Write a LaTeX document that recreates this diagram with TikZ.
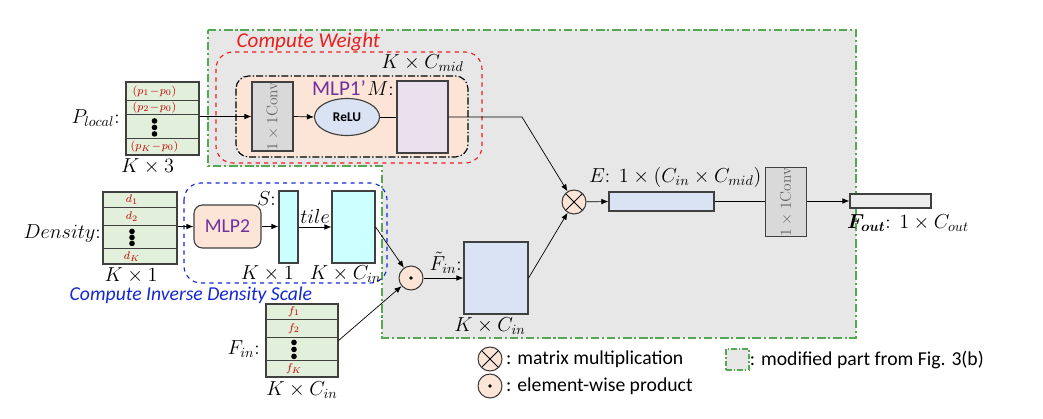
\documentclass[tikz,border=0pt]{standalone}
\usepackage{amsmath,amssymb}
\usepackage{fontspec}
\setsansfont{Carlito}
\usetikzlibrary{arrows.meta,positioning,calc,shapes.geometric}

\definecolor{tabgreen}{RGB}{226,239,218}
\definecolor{cellred}{RGB}{192,0,0}
\definecolor{opfill}{RGB}{252,228,214}
\definecolor{regiongray}{RGB}{231,231,231}
\definecolor{regiongreen}{RGB}{84,168,84}
\definecolor{convgray}{RGB}{217,217,217}
\definecolor{mfill}{RGB}{234,224,238}
\definecolor{sfill}{RGB}{204,255,255}
\definecolor{bfill}{RGB}{218,227,243}
\definecolor{outfill}{RGB}{236,236,236}
\definecolor{mlppurple}{RGB}{112,48,160}
\definecolor{cwred}{RGB}{235,30,30}
\definecolor{cdblue}{RGB}{20,40,210}

\begin{document}
\begin{tikzpicture}[
    x=0.025cm, y=-0.025cm,
    lab/.style={font=\fontsize{14}{16}\selectfont, inner sep=1pt},
    tab/.style={draw=black!75, line width=0.8pt, fill=tabgreen, inner sep=0pt},
    cell/.style={font=\fontsize{8}{9}\selectfont, text=cellred, inner sep=0pt},
    blk/.style={draw=black!75, line width=0.8pt, inner sep=0pt},
    convbox/.style={blk, fill=convgray, minimum width=1.025cm, minimum height=1.725cm, font=\fontsize{11}{13}\selectfont, text=black!60},
    op/.style={circle, draw=black!80, line width=0.7pt, fill=opfill, minimum size=0.6cm, inner sep=0pt},
    otimes/.style={op, path picture={\draw[black, line width=0.7pt] (path picture bounding box.north west) -- (path picture bounding box.south east) (path picture bounding box.north east) -- (path picture bounding box.south west);}},
    odot/.style={op, path picture={\fill[black] (path picture bounding box.center) circle (1.4pt);}},
    sans/.style={font=\sffamily\fontsize{14}{16}\selectfont, inner sep=1pt},
    wire/.style={line width=0.5pt, -{Latex[length=5pt, width=4pt]}},
    link/.style={line width=0.5pt}
  ]
  \useasboundingbox (0,0) rectangle (1043,419);

  % modified part
  \filldraw[fill=regiongray, draw=regiongreen, line width=0.8pt, dash pattern=on 6pt off 2pt on 1.5pt off 2pt]
    (208,30) -- (856,30) -- (856,338) -- (382,338) -- (382,166) -- (208,166) -- cycle;

  % compute weight
  \draw[cwred, line width=0.8pt, dashed, rounded corners=12pt] (216,52) rectangle (482,163);
  \node[sans, text=cwred, anchor=base west, font=\sffamily\itshape\fontsize{15}{17}\selectfont] (cwlab) at (235,48) {Compute Weight};
  \filldraw[fill=opfill, draw=black, line width=0.8pt, rounded corners=9pt, dash pattern=on 5pt off 1.5pt on 1pt off 1.5pt]
    (236,76) rectangle (468,157);

  \node[convbox] (conv1) at (272.5,116.5) {\rotatebox{90}{$1\times1$Conv}};
  \node[blk, ellipse, fill=bfill, minimum width=1.625cm, minimum height=0.925cm, font=\sffamily\bfseries\fontsize{9.5}{11}\selectfont] (relu) at (347,117) {ReLU};
  \node[blk, fill=mfill, minimum width=1.275cm, minimum height=1.8cm] (mnode) at (422.5,117) {};
  \node[lab, anchor=north east] (mlab) at ($(mnode.north west)+(-1,0)$) {$M$:};
  \node[lab, anchor=south] (mdim) at ($(mnode.north)+(0,-7)$) {$K\times C_{mid}$};
  \node[sans, text=mlppurple, font=\sffamily\fontsize{15}{17}\selectfont] (mlp1) at (339,88) {MLP1’};

  % P_local table
  \node[tab, minimum width=1.825cm, minimum height=1.825cm] (plocal) at (162.5,118.5) {};
  \foreach \dy in {19,33,57}
    \draw[black!75] ($(plocal.north west)+(0,\dy)$) -- ($(plocal.north east)+(0,\dy)$);
  \node[cell] at ($(plocal.north)+(-8,10)$) {$(p_1\!-\!p_0)$};
  \node[cell] at ($(plocal.north)+(-8,26)$) {$(p_2\!-\!p_0)$};
  \node[cell] at ($(plocal.north)+(-8,65)$) {$(p_K\!-\!p_0)$};
  \foreach \k in {-6.5,0,6.5}
    \fill ($(plocal.north)+(-8,46+\k)$) circle (2pt);
  \node[lab, anchor=east] (plab) at ($(plocal.west)+(-4,0)$) {$P_{local}$:};
  \node[lab, anchor=north] (pdim) at ($(plocal.south)+(-15,1)$) {$K\times 3$};

  % density table
  \node[tab, minimum width=1.85cm, minimum height=1.8cm] (dens) at (140,228) {};
  \foreach \dy in {16,34,57}
    \draw[black!75] ($(dens.north west)+(0,\dy)$) -- ($(dens.north east)+(0,\dy)$);
  \node[cell] at ($(dens.north)+(-8,8)$) {$d_1$};
  \node[cell] at ($(dens.north)+(-8,25)$) {$d_2$};
  \node[cell] at ($(dens.north)+(-8,65)$) {$d_K$};
  \foreach \k in {-6,0,6}
    \fill ($(dens.north)+(-8,46+\k)$) circle (2pt);
  \node[lab, anchor=east] (dlab) at ($(dens.west)+(0,6)$) {$Density$:};
  \node[lab, anchor=north] (ddim) at ($(dens.south)+(-9,1)$) {$K\times 1$};

  % compute inverse density scale
  \draw[cdblue, line width=0.8pt, dashed, rounded corners=12pt] (184,183) rectangle (387,283);
  \node[sans, text=cdblue, anchor=base west, font=\sffamily\itshape\fontsize{14}{16}\selectfont] (cdlab) at (68,300) {Compute Inverse Density Scale};
  \node[blk, fill=opfill, rounded corners=6pt, minimum width=1.675cm, minimum height=1.075cm, font=\sffamily\fontsize{14}{16}\selectfont, text=mlppurple] (mlp2) at (227.5,226.5) {MLP2};
  \node[blk, fill=sfill, minimum width=0.475cm, minimum height=1.8cm] (snode) at (288.5,227) {};
  \node[blk, fill=sfill, minimum width=1.075cm, minimum height=1.8cm] (tiled) at (353.5,227) {};
  \node[lab, anchor=north east] (slab) at ($(snode.north west)+(-1,0)$) {$S$:};
  \node[lab, anchor=north east] (sdim) at ($(snode.south east)+(-3,0)$) {$K\times 1$};
  \node[lab, anchor=north] (tdim) at ($(tiled.south)+(-8,0)$) {$K\times C_{in}$};

  % F_in table
  \node[tab, minimum width=1.8cm, minimum height=1.825cm] (fin) at (302,340.5) {};
  \foreach \dy in {16,34,57}
    \draw[black!75] ($(fin.north west)+(0,\dy)$) -- ($(fin.north east)+(0,\dy)$);
  \node[cell] at ($(fin.north)+(-8,8)$) {$f_1$};
  \node[cell] at ($(fin.north)+(-8,25)$) {$f_2$};
  \node[cell] at ($(fin.north)+(-8,65)$) {$f_K$};
  \foreach \k in {-7,0,7}
    \fill ($(fin.north)+(-8,46+\k)$) circle (2pt);
  \node[lab, anchor=east] (flab) at ($(fin.west)+(-4,9)$) {$F_{in}$:};
  \node[lab, anchor=north] (fdim) at ($(fin.south)+(0,2)$) {$K\times C_{in}$};

  % operators and features
  \node[odot] (prod) at (411,278) {};
  \node[blk, fill=bfill, minimum width=1.6cm, minimum height=1.8cm] (ftil) at (496,278) {};
  \node[lab, anchor=south east] (ftlab) at ($(ftil.west)+(0,-3)$) {$\tilde{F}_{in}$:};
  \node[lab, anchor=north] (ftdim) at ($(ftil.south)+(-6,1)$) {$K\times C_{in}$};
  \node[otimes] (mult) at (574,202) {};
  \node[blk, fill=bfill, minimum width=2.625cm, minimum height=0.475cm] (ebox) at (661.5,201.5) {};
  \node[lab, anchor=south west] (elab) at ($(ebox.north west)+(-21,-2)$) {$E$: $1\times(C_{in}\times C_{mid})$};
  \node[convbox, minimum height=1.7cm] (conv2) at (786,202) {\rotatebox{90}{$1\times1$Conv}};
  \node[blk, fill=outfill, minimum width=2.025cm, minimum height=0.35cm] (fout) at (890.5,201) {};
  \node[lab, anchor=north west] (olab) at ($(fout.south west)+(-4,4)$) {$\boldsymbol{F_{out}}$: $1\times C_{out}$};

  % connectors
  \draw[wire] (plocal.east |- conv1.west) -- (conv1.west);
  \draw[wire] (conv1.east) -- (relu.west);
  \draw[link] (relu.east) -- (mnode.west |- relu.east);
  \coordinate (bend) at (522,117);
  \draw[wire] (mnode.east) -- (bend) -- (mult);
  \draw[wire] (mlp2.west -| dens.east) -- (mlp2.west);
  \draw[wire] (mlp2.east) -- (mlp2.east -| snode.west);
  \draw[wire] (snode.east) -- (tiled.west) node[midway, above, lab, inner sep=2pt] {$tile$};
  \draw[wire] (tiled.east) -- (prod);
  \draw[wire] (fin.east) -- (prod);
  \draw[wire] (prod) -- (prod -| ftil.west);
  \draw[wire] (ftil.east) -- (mult);
  \draw[wire] (mult) -- (ebox.west);
  \draw[link] (ebox.east) -- (ebox.east -| conv2.west);
  \draw[wire] (conv2.east |- fout.west) -- (fout.west);

  % legend
  \node[otimes] (legmult) at (490,359) {};
  \node[sans, anchor=west] (legmultlab) at ($(legmult.east)+(2,0)$) {: matrix multiplication};
  \node[odot] (legprod) at (490,386) {};
  \node[sans, anchor=west] (legprodlab) at ($(legprod.east)+(2,0)$) {: element-wise product};
  \node[draw=regiongreen, fill=regiongray, line width=0.8pt, dash pattern=on 4pt off 1.5pt on 1pt off 1.5pt, minimum width=0.575cm, minimum height=0.525cm] (legreg) at (737.5,359.5) {};
  \node[sans, anchor=west, inner sep=0pt] (legreglab) at (legreg.east) {: modified part from Fig. 3(b)};
\end{tikzpicture}
\end{document}
